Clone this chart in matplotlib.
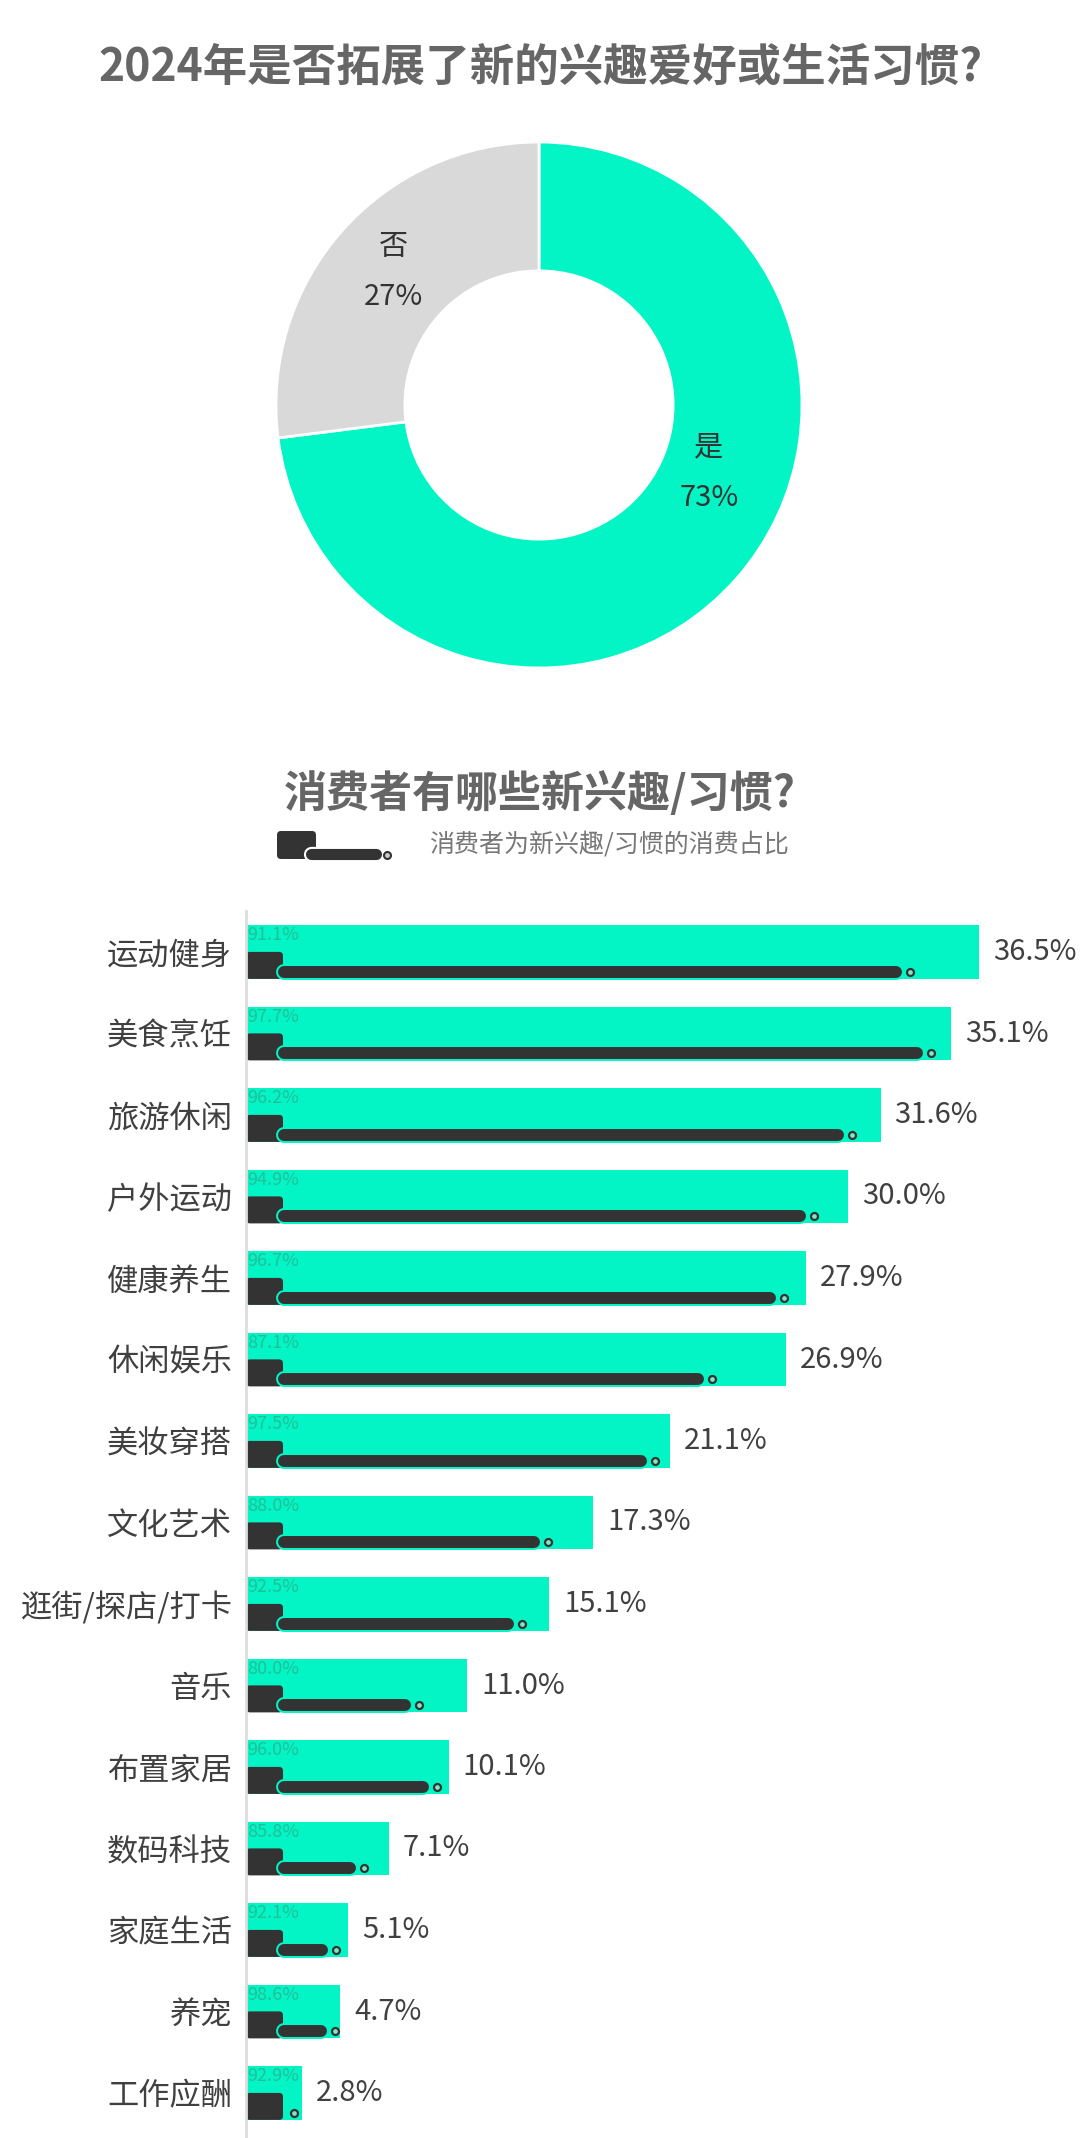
import matplotlib
matplotlib.use("Agg")
import matplotlib.pyplot as plt
import matplotlib.patheffects as pe
from matplotlib.patches import FancyBboxPatch
import numpy as np

plt.rcParams['font.family'] = ['Noto Sans CJK SC', 'DejaVu Sans']

# ---- data ----
pie_labels = ['是', '否']
pie_values = [73, 27]

categories = ['运动健身', '美食烹饪', '旅游休闲', '户外运动', '健康养生', '休闲娱乐', '美妆穿搭',
              '文化艺术', '逛街/探店/打卡', '音乐', '布置家居', '数码科技', '家庭生活', '养宠', '工作应酬']
share = [36.5, 35.1, 31.6, 30.0, 27.9, 26.9, 21.1, 17.3, 15.1, 11.0, 10.1, 7.1, 5.1, 4.7, 2.8]
spend_ratio = [91.1, 97.7, 96.2, 94.9, 96.7, 87.1, 97.5, 88.0, 92.5, 80.0, 96.0, 85.8, 92.1, 98.6, 92.9]

GREEN = '#03F5C5'
GREY = '#D9D9D9'
DARK = '#333333'
TITLE = '#666666'
TEXT = '#404040'
SMALL = '#22BF99'

W, H = 1080, 2138
fig = plt.figure(figsize=(W / 100, H / 100), dpi=100)
fig.patch.set_facecolor('white')


def box(left, top, width, height):
    # pixel box -> figure fraction
    return [left / W, 1 - (top + height) / H, width / W, height / H]


# ---- titles ----
fig.text(0.5, 1 - 68 / H, '2024年是否拓展了新的兴趣爱好或生活习惯?', ha='center', va='center',
         fontsize=32, fontweight='bold', color=TITLE)
fig.text(540 / W, 1 - 794 / H, '消费者有哪些新兴趣/习惯?', ha='center', va='center',
         fontsize=31, fontweight='bold', color=TITLE)

# ---- donut ----
r_px = 263
ax_pie = fig.add_axes(box(539 - r_px, 405 - r_px, 2 * r_px, 2 * r_px))
ax_pie.pie(pie_values, colors=[GREEN, GREY], startangle=90, counterclock=False,
           wedgeprops=dict(width=0.49, edgecolor='white', linewidth=2))
ax_pie.set_xlim(-1, 1)
ax_pie.set_ylim(-1, 1)
ax_pie.set_aspect('equal')
ax_pie.axis('off')
ax_pie.text(-0.555, 0.60, pie_labels[1], ha='center', va='center', fontsize=21, color=DARK)
ax_pie.text(-0.555, 0.41, f'{pie_values[1]}%', ha='center', va='center', fontsize=21, color=DARK)
ax_pie.text(0.646, -0.16, pie_labels[0], ha='center', va='center', fontsize=21, color=DARK)
ax_pie.text(0.646, -0.355, f'{pie_values[0]}%', ha='center', va='center', fontsize=21, color=DARK)

# ---- legend icon ----
ax_leg = fig.add_axes(box(270, 825, 130, 40))
ax_leg.set_xlim(270, 400)
ax_leg.set_ylim(865, 825)
ax_leg.axis('off')
ax_leg.add_patch(FancyBboxPatch((277, 831), 39, 28, boxstyle='round,pad=0,rounding_size=4',
                                fc=DARK, ec='none'))
ax_leg.plot([311, 376], [854, 854], color=DARK, lw=8, solid_capstyle='round',
            path_effects=[pe.Stroke(linewidth=11, foreground='white'), pe.Normal()])
ax_leg.plot([387], [855], marker='o', ms=5, mfc='#cccccc', mec=DARK, mew=1.5)
fig.text(429 / W, 1 - 845 / H, '消费者为新兴趣/习惯的消费占比', ha='left', va='center',
         fontsize=18, color='#777777')

# ---- bars ----
ax_left, ax_top = 246, 911
px_x = 20.08   # pixels per percent
px_y = 81.5    # pixels per row
ax = fig.add_axes(box(ax_left, ax_top, W - ax_left, H - ax_top))
xmax = (W - ax_left) / px_x
y0 = -41 / px_y
ax.set_xlim(0, xmax)
ax.set_ylim(y0 + (H - ax_top) / px_y, y0)

y = np.arange(len(categories))
bh = 0.66
ax.barh(y, share, height=bh, color=GREEN, zorder=1)

blk_w = 37 / px_x
blk_h = 27 / px_y
asp = px_x / px_y
for i, (v, p) in enumerate(zip(share, spend_ratio)):
    bottom = i + bh / 2
    ax.add_patch(FancyBboxPatch((0, bottom - blk_h), blk_w, blk_h,
                                boxstyle=f'round,pad=0,rounding_size={4 / px_x}',
                                mutation_aspect=asp, fc=DARK, ec='none', zorder=2))
    cx = v * p / 100 - 0.2
    x0 = 1.9
    x1 = max(cx - 0.7, x0)
    ly = bottom - 7 / px_y
    ax.plot([x0, x1], [ly, ly], color=DARK, lw=8.6, solid_capstyle='round', zorder=3,
            path_effects=[pe.Stroke(linewidth=11.5, foreground=GREEN), pe.Normal()])
    ax.plot([cx], [ly], marker='o', ms=5, mfc='#7fe6c8', mec=DARK, mew=1.6, zorder=4)
    ax.text(0.08, i - bh / 2 + 1 / px_y, f'{p:.1f}%', ha='left', va='top', fontsize=13,
            color=SMALL, zorder=5)
    ax.text(v + 0.7, i, f'{v:.1f}%', ha='left', va='center', fontsize=21, color=TEXT,
            clip_on=False)

ax.set_yticks(y, categories, fontsize=22.5, color=TEXT)
ax.tick_params(axis='y', length=0, pad=10)
ax.set_xticks([])
for s in ['top', 'right', 'bottom']:
    ax.spines[s].set_visible(False)
ax.spines['left'].set_color('#dddddd')
ax.spines['left'].set_linewidth(2)

fig.savefig('out.png', dpi=100, facecolor='white')
